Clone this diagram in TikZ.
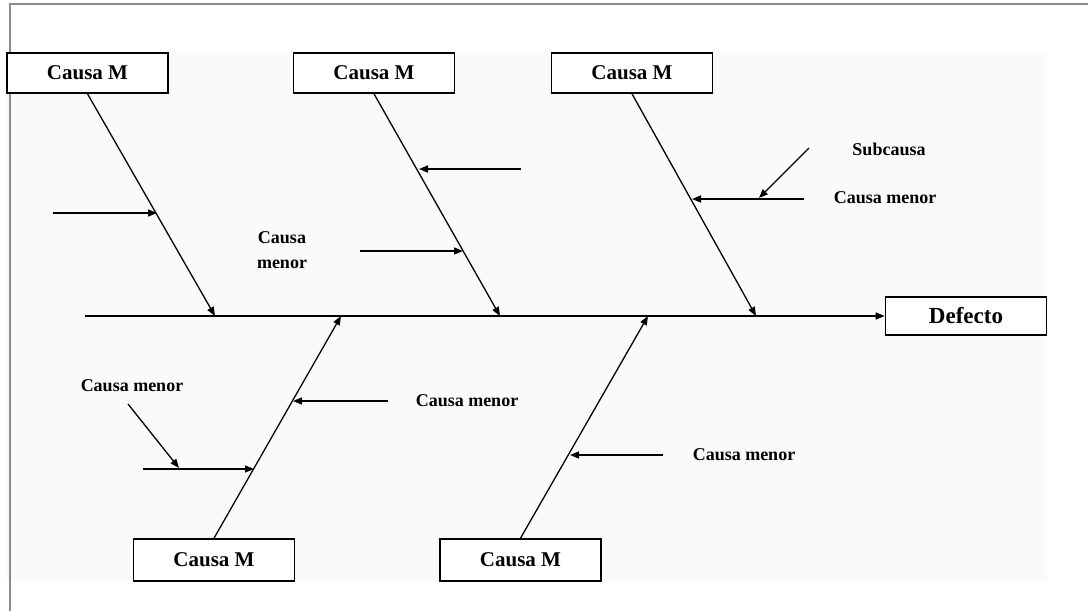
\documentclass[tikz,border=0pt]{standalone}
\usepackage{fontspec}
\setmainfont{Liberation Serif}
\usetikzlibrary{arrows.meta, positioning}

\begin{document}
\begin{tikzpicture}[
    x=1pt, y=-1pt,
    cbox/.style={rectangle, draw, line width=1.6pt, fill=white, minimum width=161pt, minimum height=40pt, align=center, font=\fontsize{21}{25}\selectfont\bfseries},
    lbl/.style={align=center, inner sep=0pt, font=\fontsize{18}{25}\selectfont\bfseries},
    bone/.style={-{Triangle[length=9pt,width=7pt]}, line width=1.3pt},
    arrow/.style={-{Triangle[length=9pt,width=7pt]}, line width=1.5pt}
]
\useasboundingbox (0,0) rectangle (1088,611);

% Frame and background
\fill[black!2] (7,53) rectangle (1047,581);
\draw[black!45, line width=2pt] (1088,4) -- (10,4) -- (10,611);

% Main causes
\node[cbox] (cm1) at (87.5,73) {Causa M};
\node[cbox] (cm2) at (374,73) {Causa M};
\node[cbox] (cm3) at (632,73) {Causa M};
\node[cbox, minimum height=42pt] (cm4) at (214,560) {Causa M};
\node[cbox, minimum height=42pt] (cm5) at (520.5,560) {Causa M};

% Effect
\node[cbox, minimum height=38pt, font=\fontsize{23}{27}\selectfont\bfseries] (defecto) at (966,316) {Defecto};

% Labels
\node[lbl] (menor1) at (282,250) {Causa\\menor};
\node[lbl] (sub) at (889,149) {Subcausa};
\node[lbl] (menor2) at (885,198) {Causa menor};
\node[lbl] (menor3) at (132,386) {Causa menor};
\node[lbl] (menor4) at (467,401) {Causa menor};
\node[lbl] (menor5) at (744,455) {Causa menor};

% Spine
\coordinate (tail) at (85,316);
\coordinate (j1) at (215,316);
\coordinate (j2) at (500,316);
\coordinate (j3) at (756,316);
\coordinate (j4) at (341,316);
\coordinate (j5) at (648,316);
\draw[arrow] (tail) -- (defecto.west);

% Bones
\draw[bone] (cm1.south) -- (j1);
\draw[bone] (cm2.south) -- (j2);
\draw[bone] (cm3.south) -- (j3);
\draw[bone] (cm4.north) -- (j4);
\draw[bone] (cm5.north) -- (j5);

% Minor causes
\coordinate (a1) at (53,213);  \coordinate (t1) at (157,213);
\coordinate (a2) at (521,169); \coordinate (t2) at (419,169);
\coordinate (a3) at (360,251); \coordinate (t3) at (463,251);
\coordinate (a4) at (804,199); \coordinate (t4) at (692,199);
\coordinate (a5) at (388,401); \coordinate (t5) at (293,401);
\coordinate (a6) at (143,469); \coordinate (t6) at (254,469);
\coordinate (a7) at (663,455); \coordinate (t7) at (570,455);
\draw[arrow] (a1) -- (t1);
\draw[arrow] (a2) -- (t2);
\draw[arrow] (a3) -- (t3);
\draw[arrow] (a4) -- (t4);
\draw[arrow] (a5) -- (t5);
\draw[arrow] (a6) -- (t6);
\draw[arrow] (a7) -- (t7);

% Sub-causes
\coordinate (s1) at (809,148); \coordinate (u1) at (759,198);
\coordinate (s2) at (128,404); \coordinate (u2) at (179,468);
\draw[bone] (s1) -- (u1);
\draw[bone] (s2) -- (u2);

\end{tikzpicture}
\end{document}
